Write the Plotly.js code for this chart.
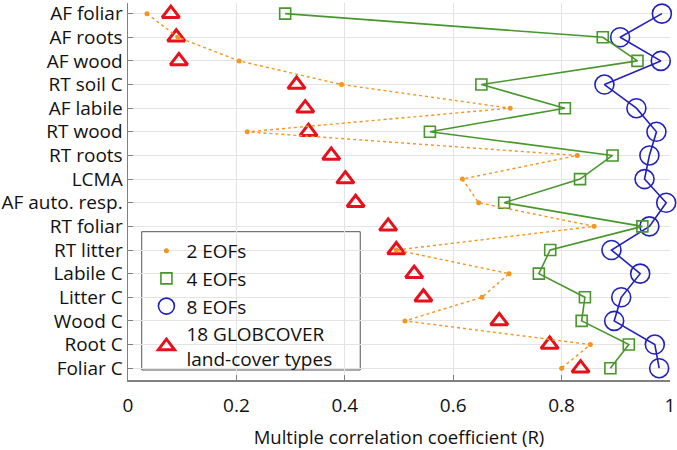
<!DOCTYPE html>
<html>
<head>
<meta charset="utf-8">
<script src="https://cdn.plot.ly/plotly-3.0.1.min.js"></script>
<style>html,body{margin:0;padding:0;background:#fff;}#chart{width:677px;height:450px;}</style>
</head>
<body>
<div id="chart"></div>
<script>
const categories = ["AF foliar","AF roots","AF wood","RT soil C","AF labile","RT wood","RT roots","LCMA","AF auto. resp.","RT foliar","RT litter","Labile C","Litter C","Wood C","Root C","Foliar C"];
const eof2 = [0.035,0.092,0.205,0.394,0.705,0.220,0.829,0.617,0.647,0.860,0.495,0.703,0.653,0.511,0.853,0.800];
const eof4 = [0.290,0.876,0.940,0.652,0.806,0.557,0.894,0.834,0.694,0.949,0.779,0.758,0.843,0.837,0.924,0.890];
const eof8 = [0.985,0.908,0.983,0.879,0.938,0.975,0.962,0.953,0.993,0.962,0.892,0.945,0.910,0.897,0.972,0.980];
const globcover = [0.079,0.089,0.094,0.311,0.327,0.333,0.375,0.401,0.420,0.480,0.495,0.528,0.545,0.685,0.778,0.835];
const seriesNames = ["2 EOFs","4 EOFs","8 EOFs","18 GLOBCOVER<br>land-cover types"];
const xTickVals = [0,0.2,0.4,0.6,0.8,1];
const xTickText = ["0","0.2","0.4","0.6","0.8","1"];

const cOrange = "#f5951f", cGreen = "#47972b", cBlue = "#2121bd", cRed = "#e8101a";

const traces = [
  {x: globcover, y: categories, mode: "markers", showlegend: false, cliponaxis: false,
   marker: {symbol: "triangle-up-open", size: 15, color: cRed, line: {width: 3, color: cRed}}},
  {x: eof8, y: categories, mode: "lines+markers", showlegend: false, cliponaxis: false,
   line: {color: cBlue, width: 1.6},
   marker: {symbol: "circle-open", size: 19, color: cBlue, line: {width: 1.6, color: cBlue}}},
  {x: eof4, y: categories, mode: "lines+markers", showlegend: false, cliponaxis: false,
   line: {color: cGreen, width: 1.6},
   marker: {symbol: "square-open", size: 11, color: cGreen, line: {width: 1.6, color: cGreen}}},
  {x: eof2, y: categories, mode: "lines+markers", showlegend: false, cliponaxis: false,
   line: {color: cOrange, width: 1.4, dash: "dot"},
   marker: {symbol: "circle", size: 5, color: cOrange}},
  // legend entries
  {x: [null], y: [null], mode: "markers", name: seriesNames[0],
   marker: {symbol: "circle", size: 5, color: cOrange}},
  {x: [null], y: [null], mode: "markers", name: seriesNames[1],
   marker: {symbol: "square-open", size: 11, color: cGreen, line: {width: 1.6, color: cGreen}}},
  {x: [null], y: [null], mode: "markers", name: seriesNames[2],
   marker: {symbol: "circle-open", size: 16, color: cBlue, line: {width: 1.6, color: cBlue}}},
  {x: [null], y: [null], mode: "markers", name: seriesNames[3],
   marker: {symbol: "triangle-up-open", size: 14, color: cRed, line: {width: 3, color: cRed}}}
];

const layout = {
  width: 677, height: 450,
  margin: {l: 128, r: 7, t: 3, b: 70},
  paper_bgcolor: "#fff", plot_bgcolor: "#fff",
  font: {family: "Open Sans, sans-serif", size: 18, color: "#111"},
  showlegend: true,
  legend: {x: 0.034, xanchor: "left", y: 0.393, yanchor: "top",
           borderwidth: 0, bgcolor: "rgba(0,0,0,0)",
           font: {size: 19, color: "#111"}, traceorder: "normal"},
  shapes: [{type: "rect", xref: "paper", yref: "paper", layer: "between",
            x0: 0.0253, x1: 0.4285, y0: 0.0265, y1: 0.3934,
            line: {color: "#555", width: 1}, fillcolor: "#fff"}],
  xaxis: {range: [0, 1], tickvals: xTickVals, ticktext: xTickText,
          showgrid: true, gridcolor: "#e4e4e4", gridwidth: 1,
          showline: true, linecolor: "#808080", linewidth: 1.5,
          ticks: "inside", ticklen: 5, tickcolor: "#808080",
          zeroline: false, tickfont: {size: 19}, ticklabelstandoff: 8,
          title: {text: "Multiple correlation coefficient (R)", font: {size: 18.5}, standoff: 14}},
  yaxis: {type: "category", categoryorder: "array", categoryarray: categories,
          range: [15.5, -0.45],
          showgrid: true, gridcolor: "#e4e4e4", gridwidth: 1,
          showline: true, linecolor: "#808080", linewidth: 1.5,
          ticks: "inside", ticklen: 5, tickcolor: "#808080",
          zeroline: false, tickfont: {size: 19}}
};

Plotly.newPlot("chart", traces, layout, {displayModeBar: false, staticPlot: true});
</script>
</body>
</html>
